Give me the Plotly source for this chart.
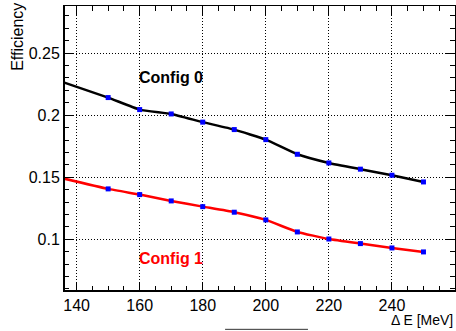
import plotly.graph_objects as go

# Energy cut values [MeV] and efficiencies for the two configurations
delta_e = [130, 150, 160, 170, 180, 190, 200, 210, 220, 230, 240, 250]
eff_config0 = [0.2315, 0.2142, 0.2045, 0.2010, 0.1944, 0.1884, 0.1803,
               0.1685, 0.1615, 0.1565, 0.1516, 0.1462]
eff_config1 = [0.1525, 0.1406, 0.1360, 0.1309, 0.1263, 0.1218, 0.1156,
               0.1059, 0.1002, 0.0965, 0.0930, 0.0898]

x_ticks = [140, 160, 180, 200, 220, 240]
y_ticks = [0.1, 0.15, 0.2, 0.25]
y_tick_text = ["0.1", "0.15", "0.2", "0.25"]

FONT = "Liberation Sans, Arial, sans-serif"

fig = go.Figure()

for y_vals, color, name in [(eff_config0, "black", "Config 0"),
                            (eff_config1, "#ff0000", "Config 1")]:
    # curve (the first point lies outside the frame, so no marker for it)
    fig.add_trace(go.Scatter(
        x=delta_e, y=y_vals, mode="lines",
        line=dict(color=color, width=2.5, shape="spline", smoothing=0.4),
        name=name, showlegend=False, hoverinfo="skip"))
    fig.add_trace(go.Scatter(
        x=delta_e[1:], y=y_vals[1:], mode="markers",
        marker=dict(symbol="square", size=5, color="#0000ff"),
        name=name, showlegend=False))

axis_common = dict(
    showline=True, linecolor="black", linewidth=1, mirror="allticks",
    ticks="inside", tickcolor="black", tickwidth=1, ticklen=9,
    showgrid=True, gridcolor="black", gridwidth=1, griddash="1px,2px",
    zeroline=False,
    tickfont=dict(family=FONT, size=16, color="black"),
)

fig.update_xaxes(
    range=[136, 260], tickvals=x_ticks,
    minor=dict(dtick=5, tick0=0, ticks="inside", ticklen=5,
               tickcolor="black", showgrid=False),
    **axis_common)
fig.update_yaxes(
    range=[0.0583, 0.288], tickvals=y_ticks, ticktext=y_tick_text,
    minor=dict(dtick=0.01, tick0=0, ticks="inside", ticklen=5,
               tickcolor="black", showgrid=False),
    **axis_common)

annotations = [
    dict(text="<b>Config 0</b>", x=159.0, y=0.2301, xref="x", yref="y",
         xanchor="left", yanchor="middle", showarrow=False,
         font=dict(family=FONT, size=16, color="black")),
    dict(text="<b>Config 1</b>", x=159.0, y=0.0845, xref="x", yref="y",
         xanchor="left", yanchor="middle", showarrow=False,
         font=dict(family=FONT, size=16, color="#ff0000")),
    dict(text="Efficiency", textangle=-90, x=-0.121, y=1.017,
         xref="paper", yref="paper", xanchor="center", yanchor="top",
         showarrow=False, font=dict(family=FONT, size=16, color="black")),
    dict(text="Δ E [MeV]", x=1.0, y=-0.068, xref="paper", yref="paper",
         xanchor="right", yanchor="top", showarrow=False,
         font=dict(family=FONT, size=14, color="black")),
]

shapes = [
    # heavier left and bottom frame edges
    dict(type="line", xref="paper", yref="paper", x0=0, x1=0, y0=0, y1=1,
         line=dict(color="black", width=2)),
    dict(type="line", xref="paper", yref="paper", x0=0, x1=1, y0=0, y1=0,
         line=dict(color="black", width=2)),
    # short rule under the axis
    dict(type="line", xref="paper", yref="paper", x0=0.412, x1=0.624,
         y0=-0.1345, y1=-0.1345, line=dict(color="#333333", width=1)),
]

fig.update_layout(
    width=456, height=331,
    margin=dict(l=64, r=1, t=6, b=40),
    paper_bgcolor="white", plot_bgcolor="white",
    annotations=annotations, shapes=shapes,
    font=dict(family=FONT, color="black"),
)

fig.write_html("out.html")
